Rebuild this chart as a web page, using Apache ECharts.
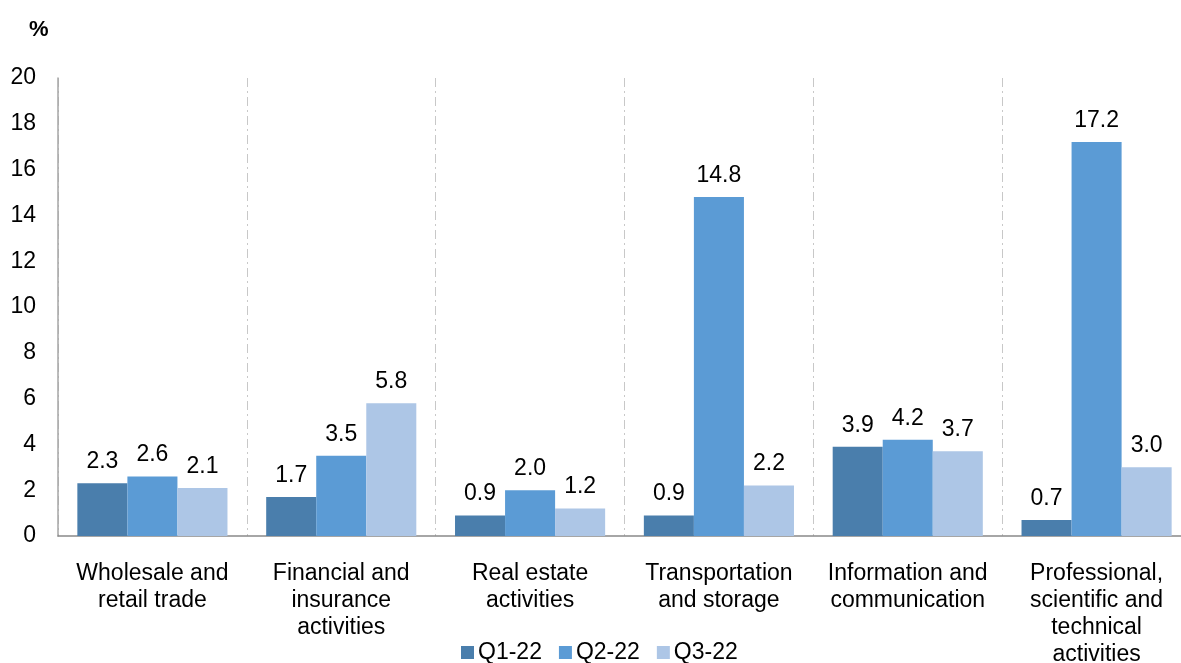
<!DOCTYPE html>
<html>
<head>
<meta charset="utf-8">
<script src="https://cdn.jsdelivr.net/npm/echarts@6/dist/echarts.min.js"></script>
<style>html,body{margin:0;padding:0;background:#fff;}#c{width:1181px;height:663px;}</style>
</head>
<body>
<div id="c"></div>
<script>
var categories = ["Wholesale and\nretail trade", "Financial and\ninsurance\nactivities", "Real estate\nactivities", "Transportation\nand storage", "Information and\ncommunication", "Professional,\nscientific and\ntechnical\nactivities"];
var seriesNames = ["Q1-22", "Q2-22", "Q3-22"];
var q1 = [2.3, 1.7, 0.9, 0.9, 3.9, 0.7];
var q2 = [2.6, 3.5, 2.0, 14.8, 4.2, 17.2];
var q3 = [2.1, 5.8, 1.2, 2.2, 3.7, 3.0];
var yTicks = [0, 2, 4, 6, 8, 10, 12, 14, 16, 18, 20];
var colors = ["#4a7eac", "#5b9bd5", "#adc6e6"];

var font = "Liberation Sans, Arial, sans-serif";
var fs = 23;
var chart = echarts.init(document.getElementById('c'));
function mk(name, data, i) {
  return {
    name: name, type: 'bar', data: data, barGap: '0%', barCategoryGap: '20.5%',
    itemStyle: { color: colors[i] },
    label: { show: true, position: 'top', distance: 10, color: '#000', fontSize: fs, fontFamily: font,
      formatter: function (p) { return p.value.toFixed(1); } }
  };
}
chart.setOption({
  animation: false,
  textStyle: { fontFamily: font },
  title: { text: '%', left: 24, top: 14, textStyle: { fontSize: 22, fontWeight: 'bold', color: '#000', fontFamily: font } },
  legend: {
    data: seriesNames, left: 456, top: 636, itemWidth: 13, itemHeight: 13, itemGap: 17, icon: 'rect',
    textStyle: { fontSize: fs, color: '#000', fontFamily: font, padding: [0, 0, 0, -1] }
  },
  grid: { left: 58, right: -10, top: 78, bottom: 127, containLabel: false, outerBoundsMode: 'none' },
  xAxis: {
    type: 'category', data: categories,
    axisLine: { lineStyle: { color: '#898989', width: 1.5 } },
    axisTick: { show: false },
    splitLine: { show: true, lineStyle: { color: '#c8c8c8', width: 1, type: [9, 4, 2, 4] } },
    axisLabel: { fontSize: fs, color: '#000', lineHeight: 27, margin: 24, interval: 0, fontFamily: font }
  },
  yAxis: {
    type: 'value', min: yTicks[0], max: yTicks[yTicks.length - 1], interval: 2,
    axisLine: { show: true, lineStyle: { color: '#a6a6a6', width: 1.5 } },
    axisTick: { show: false },
    splitLine: { show: false },
    axisLabel: { fontSize: fs, color: '#000', margin: 22, fontFamily: font }
  },
  series: [mk(seriesNames[0], q1, 0), mk(seriesNames[1], q2, 1), mk(seriesNames[2], q3, 2)]
});
</script>
</body>
</html>
